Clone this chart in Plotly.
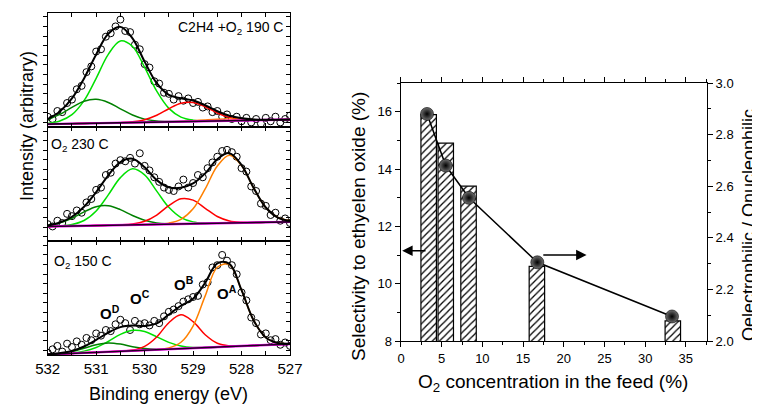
import numpy as np
import plotly.graph_objects as go

# ---------------- XPS panels (left) ----------------
E_grid = [532.0, 531.75, 531.5, 531.25, 531.0, 530.75, 530.5, 530.25, 530.0, 529.75, 529.5,
          529.25, 529.0, 528.75, 528.5, 528.25, 528.0, 527.75, 527.5, 527.25, 527.0]

# panel 1: C2H4 + O2 190 C  (component heights above background)
bg1 = [2.5, 2.7, 2.9, 3.1, 3.3, 3.5, 3.7, 3.9, 4.1, 4.3, 4.5, 4.7, 4.9, 5.1, 5.3, 5.5, 5.7, 5.9, 6.1, 6.3, 6.5]
oc1 = [0.6, 2.5, 7.9, 20.0, 39.3, 60.1, 71.6, 66.5, 48.0, 27.0, 11.8, 4.0, 1.1, 0.2, 0, 0, 0, 0, 0, 0, 0]
od1 = [3.8, 8.3, 14.2, 19.4, 20.9, 18.0, 12.2, 6.6, 2.8, 1.0, 0.3, 0.1, 0, 0, 0, 0, 0, 0, 0, 0, 0]
ob1 = [0, 0, 0, 0, 0, 0, 0.1, 0.6, 2.3, 6.0, 11.5, 16.1, 16.6, 12.6, 7.0, 2.9, 0.9, 0.2, 0, 0, 0]
oa1 = [0, 0, 0, 0, 0, 0, 0, 0, 0, 0, 0, 0.2, 0.6, 1.1, 1.5, 1.4, 1.0, 0.5, 0.2, 0, 0]

# panel 2: O2 230 C
bg2 = [13.0, 13.2, 13.4, 13.6, 13.8, 14.0, 14.2, 14.4, 14.6, 14.8, 15.0, 15.2, 15.4, 15.6, 15.8, 16.0, 16.2, 16.4, 16.6, 16.8, 17.0]
oc2 = [0, 0.3, 1.3, 4.6, 12.8, 26.6, 41.5, 49.0, 43.5, 29.1, 14.7, 5.6, 1.6, 0.3, 0, 0, 0, 0, 0, 0, 0]
od2 = [0.9, 2.9, 6.8, 12.1, 16.5, 17.1, 13.5, 8.2, 3.8, 1.3, 0.4, 0.1, 0, 0, 0, 0, 0, 0, 0, 0, 0]
ob2 = [0, 0, 0, 0, 0, 0, 0.1, 0.7, 2.9, 8.2, 16.2, 22.0, 20.6, 13.3, 5.9, 1.8, 0.4, 0.1, 0, 0, 0]
oa2 = [0, 0, 0, 0, 0, 0, 0, 0, 0, 0.1, 0.9, 4.0, 13.0, 30.2, 50.1, 59.3, 50.1, 30.2, 13.0, 4.0, 0.9]

# panel 3: O2 150 C
bg3 = [0.5, 1.0, 1.4, 1.9, 2.3, 2.8, 3.3, 3.7, 4.2, 4.6, 5.1, 5.6, 6.0, 6.5, 6.9, 7.4, 7.9, 8.3, 8.8, 9.2, 9.7]
oc3 = [0, 0.1, 0.4, 1.5, 4.3, 9.1, 14.8, 18.0, 16.5, 11.4, 6.0, 2.4, 0.7, 0.2, 0, 0, 0, 0, 0, 0, 0]
od3 = [0.1, 0.5, 1.7, 4.1, 6.7, 7.8, 6.3, 3.6, 1.5, 0.4, 0.1, 0, 0, 0, 0, 0, 0, 0, 0, 0, 0]
ob3 = [0, 0, 0, 0, 0, 0, 0.1, 0.6, 3.4, 11.3, 23.3, 29.7, 23.3, 11.3, 3.4, 0.6, 0.1, 0, 0, 0, 0]
oa3 = [0, 0, 0, 0, 0, 0, 0, 0, 0, 0.1, 1.1, 5.6, 19.5, 45.5, 70.3, 72.1, 49.0, 22.1, 6.6, 1.3, 0.2]

# measured points
E_pts = [532.0, 531.9, 531.8, 531.7, 531.6, 531.5, 531.4, 531.3, 531.2, 531.1, 531.0,
         530.9, 530.8, 530.7, 530.6, 530.5, 530.4, 530.3, 530.2, 530.1, 530.0,
         529.9, 529.8, 529.7, 529.6, 529.5, 529.4, 529.3, 529.2, 529.1, 529.0,
         528.9, 528.8, 528.7, 528.6, 528.5, 528.4, 528.3, 528.2, 528.1, 528.0,
         527.9, 527.8, 527.7, 527.6, 527.5, 527.4, 527.3, 527.2, 527.1, 527.0]
I1 = [9, 7, 14, 13, 21, 24, 33, 36, 48, 53, 66, 68, 79, 82, 88, 94, 84, 83, 72, 68, 55,
      52, 40, 38, 30, 29, 24, 27, 23, 25, 21, 22, 17, 18, 13, 14, 9, 11, 7, 9, 5,
      8, 4, 7, 3, 8, 5, 9, 4, 7, 10]
I2 = [15, 13, 18, 16, 24, 22, 27, 25, 34, 37, 45, 47, 58, 60, 68, 71, 70, 73, 68, 77, 66,
      62, 56, 52, 47, 45, 44, 48, 54, 47, 51, 58, 56, 64, 69, 74, 79, 80, 78, 74, 64,
      61, 48, 44, 33, 31, 23, 25, 18, 20, 16]
I3 = [2, 5, 8, 3, 10, 7, 12, 9, 15, 13, 19, 17, 22, 21, 27, 31, 28, 22, 30, 27, 28,
      26, 30, 28, 34, 38, 40, 43, 47, 49, 51, 52, 62, 64, 77, 79, 88, 83, 79, 71, 55,
      48, 33, 28, 18, 19, 13, 14, 9, 11, 8]

panel_texts = ["C2H4 +O<sub>2</sub> 190 C", "O<sub>2</sub> 230 C", "O<sub>2</sub> 150 C"]
peak_labels = ["O<sup>D</sup>", "O<sup>C</sup>", "O<sup>B</sup>", "O<sup>A</sup>"]

# ---------------- selectivity chart (right) ----------------
o2_bar = [3.4, 5.5, 8.3, 16.7, 33.4]
selectivity = [15.9, 14.9, 13.4, 10.6, 8.7]
o2_pts = [3.2, 5.5, 8.35, 16.75, 33.3]
ratio = [2.88, 2.68, 2.555, 2.305, 2.095]

FONT = "Liberation Sans, Arial, sans-serif"
OFF = 8                      # the page body keeps its default 8 px margin
W, H = 760 - OFF, 406 - OFF


def px(x):
    return (x - OFF) / W


def py(y):
    return 1 - (y - OFF) / H


fig = go.Figure()

panels = [
    (bg1, oc1, od1, ob1, oa1, I1, "x", "y"),
    (bg2, oc2, od2, ob2, oa2, I2, "x2", "y2"),
    (bg3, oc3, od3, ob3, oa3, I3, "x3", "y3"),
]
comp_colors = ["#00E000", "#008000", "#FF0000", "#FF8000"]
for bg, oc, od, ob, oa, I, xa, ya in panels:
    bgv = np.array(bg)
    comps = [np.array(oc), np.array(od), np.array(ob), np.array(oa)]
    fig.add_trace(go.Scatter(x=E_pts, y=I, mode="markers", xaxis=xa, yaxis=ya,
                             marker=dict(symbol="circle-open", size=7, color="black",
                                         line=dict(width=1, color="black")),
                             showlegend=False, hoverinfo="skip"))
    for c, col in zip(comps, comp_colors):
        fig.add_trace(go.Scatter(x=E_grid, y=bgv + c, mode="lines", xaxis=xa, yaxis=ya,
                                 line=dict(color=col, width=1.5, shape="spline", smoothing=1.0),
                                 showlegend=False, hoverinfo="skip"))
    fig.add_trace(go.Scatter(x=E_grid, y=bgv, mode="lines", xaxis=xa, yaxis=ya,
                             line=dict(color="#FF00FF", width=2.4),
                             showlegend=False, hoverinfo="skip"))
    fig.add_trace(go.Scatter(x=E_grid, y=bgv, mode="lines", xaxis=xa, yaxis=ya,
                             line=dict(color="#200020", width=1.6),
                             showlegend=False, hoverinfo="skip"))
    env = bgv + sum(comps)
    fig.add_trace(go.Scatter(x=E_grid, y=env, mode="lines", xaxis=xa, yaxis=ya,
                             line=dict(color="black", width=2, shape="spline", smoothing=1.0),
                             showlegend=False, hoverinfo="skip"))

# dummy traces so the right-side tick axes of the panels render
for ya, xa in [("y6", "x"), ("y7", "x2"), ("y8", "x3")]:
    fig.add_trace(go.Scatter(x=[None], y=[None], xaxis=xa, yaxis=ya, showlegend=False,
                             hoverinfo="skip"))

# right chart
fig.add_trace(go.Bar(x=o2_bar, y=selectivity, width=1.9, xaxis="x4", yaxis="y4",
                     marker=dict(color="white", line=dict(color="black", width=1.2),
                                 pattern=dict(shape="/", fgcolor="black", bgcolor="white",
                                              size=5, solidity=0.25, fgopacity=1)),
                     showlegend=False, hoverinfo="skip"))
fig.add_trace(go.Scatter(x=o2_pts, y=ratio, mode="lines+markers", xaxis="x4", yaxis="y5",
                         line=dict(color="black", width=1.5),
                         marker=dict(size=13, color="#707070",
                                     gradient=dict(type="radial", color="black"),
                                     line=dict(width=0.6, color="black")),
                         showlegend=False, hoverinfo="skip"))

# layout geometry
xdom_l = [px(47.7), px(290)]
ydoms = [[py(127), py(12.7)], [py(241.3), py(127)], [py(355), py(241.3)]]

common_x = dict(range=[532, 527], domain=xdom_l, showline=True, linecolor="black",
                linewidth=1, mirror="ticks", ticks="inside", ticklen=4, tickwidth=1,
                tickcolor="black", dtick=1, tick0=527, showgrid=False, zeroline=False,
                automargin=False,
                minor=dict(dtick=0.5, ticks="inside", ticklen=4, tickcolor="black", showgrid=False),
                tickfont=dict(family=FONT, size=15, color="black"))
common_y = dict(range=[0, 100], showline=True, linecolor="black", linewidth=1, mirror=True,
                ticks="outside", ticklen=4, tickcolor="black", dtick=8.4, tick0=4,
                showticklabels=False, showgrid=False, zeroline=False, automargin=False)
right_y = dict(range=[0, 100], side="right", showline=False, ticks="inside", ticklen=4,
               tickcolor="black", dtick=8.4, tick0=4, showticklabels=False,
               showgrid=False, zeroline=False, automargin=False)

layout = dict(
    template="none",
    width=W, height=H, autosize=False, margin=dict(l=0, r=0, t=0, b=0, pad=0),
    paper_bgcolor="white", plot_bgcolor="rgba(0,0,0,0)",
    font=dict(family=FONT, color="black"),
    showlegend=False,
    xaxis=dict(common_x, anchor="y", showticklabels=False),
    xaxis2=dict(common_x, anchor="y2", showticklabels=False),
    xaxis3=dict(common_x, anchor="y3", showticklabels=True),
    yaxis=dict(common_y, domain=ydoms[0], anchor="x"),
    yaxis2=dict(common_y, domain=ydoms[1], anchor="x2"),
    yaxis3=dict(common_y, domain=ydoms[2], anchor="x3"),
    yaxis6=dict(right_y, overlaying="y", anchor="x"),
    yaxis7=dict(right_y, overlaying="y2", anchor="x2"),
    yaxis8=dict(right_y, overlaying="y3", anchor="x3"),
    xaxis4=dict(domain=[px(400.5), px(707)], range=[-0.06, 37.6], anchor="y4",
                showline=True, linecolor="black", linewidth=1, mirror="ticks",
                ticks="outside", ticklen=5, tickcolor="black", dtick=5, tick0=0,
                minor=dict(dtick=2.5, ticks="outside", ticklen=3, tickcolor="black", showgrid=False),
                showgrid=False, zeroline=False, automargin=False,
                tickfont=dict(family=FONT, size=13, color="black")),
    yaxis4=dict(domain=[py(341), py(83)], range=[8, 17], anchor="x4",
                showline=True, linecolor="black", linewidth=1,
                ticks="outside", ticklen=5, tickcolor="black", dtick=2, tick0=8,
                minor=dict(dtick=1, ticks="outside", ticklen=3, tickcolor="black", showgrid=False),
                showgrid=False, zeroline=False, automargin=False,
                tickfont=dict(family=FONT, size=13, color="black")),
    yaxis5=dict(range=[2.0, 3.0], overlaying="y4", side="right", anchor="x4",
                showline=True, linecolor="black", linewidth=1,
                ticks="outside", ticklen=5, tickcolor="black", dtick=0.2, tick0=2.0,
                tickformat=".1f",
                minor=dict(dtick=0.1, ticks="outside", ticklen=3, tickcolor="black", showgrid=False),
                showgrid=False, zeroline=False, automargin=False,
                tickfont=dict(family=FONT, size=13, color="black")),
)
fig.update_layout(**layout)


def ann(text, x, y, size, xanchor="center", yanchor="middle", angle=0):
    fig.add_annotation(text=text, x=px(x), y=py(y), xref="paper", yref="paper",
                       xanchor=xanchor, yanchor=yanchor, textangle=angle, showarrow=False,
                       borderpad=0, font=dict(family=FONT, size=size, color="black"))


ann("Intensity (arbitrary)", 27, 126, 18, angle=-90)
ann("Binding energy (eV)", 168, 394, 18)
ann(panel_texts[0], 284, 28, 14, xanchor="right")
ann(panel_texts[1], 50, 145, 14, xanchor="left")
ann(panel_texts[2], 53, 262, 14, xanchor="left")
for lab, (lx, ly) in zip(peak_labels, [(99, 312), (129, 297), (173, 283), (216, 292)]):
    ann("<b>" + lab + "</b>", lx, ly, 15, xanchor="left")

ann("Selectivity to ethyelen oxide (%)", 358, 227, 19, angle=-90)
ann("Oelectrophilic / Onucleophilic", 749, 225, 18, angle=-90)
ann("O<sub>2</sub> concentration in the feed (%)", 553, 383, 19)

# arrows indicating axes
fig.add_annotation(x=0.15, y=11.15, ax=3.2, ay=11.15, xref="x4", yref="y4", axref="x4",
                   ayref="y4", text="", showarrow=True, arrowhead=2, arrowsize=1.3,
                   arrowwidth=1.6, arrowcolor="black")
fig.add_annotation(x=22.8, y=11.0, ax=17.3, ay=11.0, xref="x4", yref="y4", axref="x4",
                   ayref="y4", text="", showarrow=True, arrowhead=2, arrowsize=1.3,
                   arrowwidth=1.6, arrowcolor="black")

fig.write_html("out.html")
